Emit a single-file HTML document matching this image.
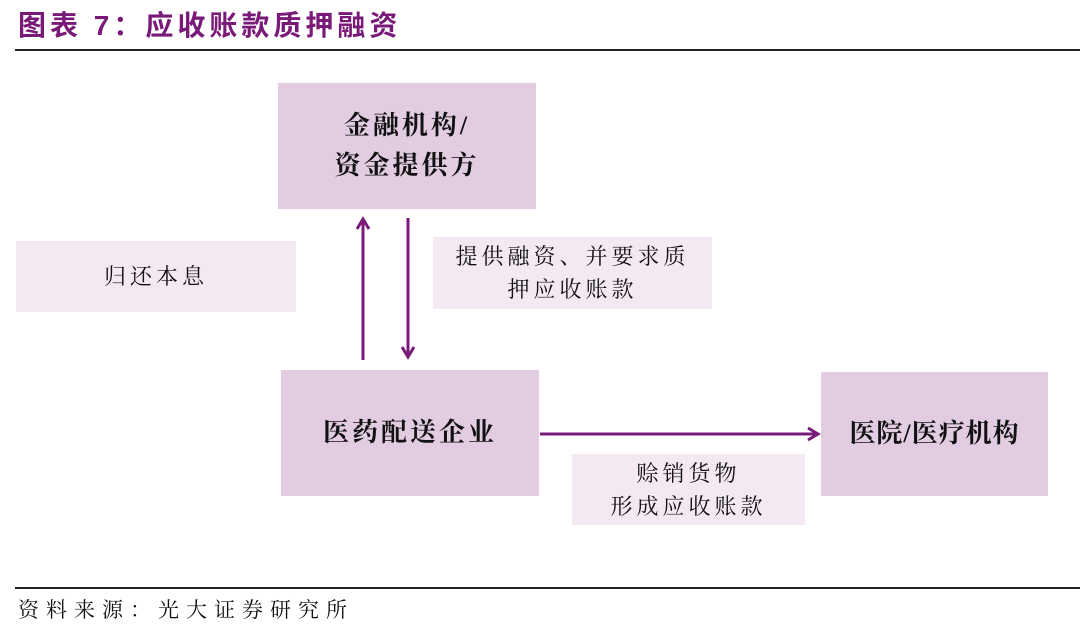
<!DOCTYPE html>
<html><head><meta charset="utf-8"><style>
body{margin:0;width:1080px;height:629px;background:#fff;position:relative;overflow:hidden;font-family:"Liberation Serif","Noto Serif CJK SC",serif;}
.a{position:absolute;display:flex;align-items:center;justify-content:center;text-align:center;color:#111;}
.box{background:#e2cce2;font-weight:bold;font-size:26px;line-height:40px;}
.lab{background:#f4e8f3;font-size:22px;line-height:33px;letter-spacing:4px;}
</style></head><body>
<div style="position:absolute;left:18px;top:4px;font-family:'Liberation Sans','Noto Sans CJK SC',sans-serif;font-weight:bold;font-size:28px;color:#7a1a78;letter-spacing:4px;">图表 7：应收账款质押融资</div>
<div style="position:absolute;left:15px;top:49px;width:1065px;height:2px;background:#222"></div>
<div class="a box" style="left:278px;top:83px;width:258px;height:126px;letter-spacing:3px">金融机构/<br>资金提供方</div>
<div class="a lab" style="left:16px;top:241px;width:280px;height:71px">归还本息</div>
<div class="a lab" style="left:433px;top:237px;width:279px;height:72px">提供融资、并要求质<br>押应收账款</div>
<div class="a box" style="left:281px;top:370px;width:258px;height:126px;letter-spacing:3px">医药配送企业</div>
<div class="a box" style="left:821px;top:372px;width:227px;height:124px;letter-spacing:1px">医院/医疗机构</div>
<div class="a lab" style="left:572px;top:454px;width:233px;height:71px">赊销货物<br>形成应收账款</div>
<svg style="position:absolute;left:0;top:0" width="1080" height="629">
<g stroke="#7a1a78" stroke-width="3" fill="none">
<line x1="363" y1="360" x2="363" y2="220"/>
<polyline points="357,229 363,219 369,229"/>
<line x1="408" y1="218" x2="408" y2="356"/>
<polyline points="402,347 408,357 414,347"/>
<line x1="540" y1="434" x2="818" y2="434"/>
<polyline points="808,428 818,434 808,440"/>
</g></svg>
<div style="position:absolute;left:15px;top:587px;width:1065px;height:2px;background:#222"></div>
<div style="position:absolute;left:18px;top:594px;font-size:21px;color:#111;letter-spacing:7px;">资料来源：光大证券研究所</div>
</body></html>
